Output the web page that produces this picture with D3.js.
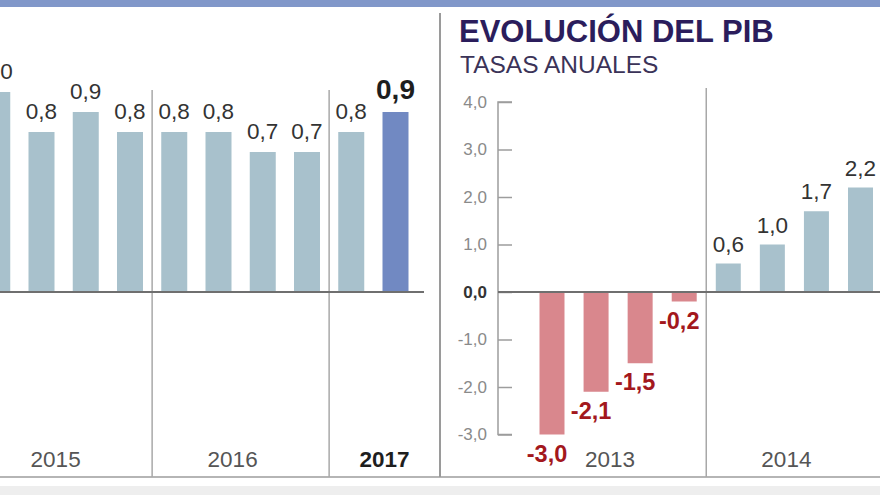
<!DOCTYPE html>
<html><head><meta charset="utf-8">
<script src="https://cdn.jsdelivr.net/npm/d3@7"></script>
<style>
html,body{margin:0;padding:0;background:#fff;}
svg{display:block;font-family:"Liberation Sans",Arial,Helvetica,sans-serif;}
</style></head>
<body>
<svg id="c" width="880" height="495"></svg>
<script>
// ---- data ----
const leftYears = ["2015", "2016", "2017"];
const leftQuarters = ["2015-I","2015-II","2015-III","2015-IV","2016-I","2016-II","2016-III","2016-IV","2017-I","2017-II"];
const leftValues = [1.0, 0.8, 0.9, 0.8, 0.8, 0.8, 0.7, 0.7, 0.8, 0.9];
const rightYears = ["2013", "2014"];
const rightQuarters = ["2013-I","2013-II","2013-III","2013-IV","2014-I","2014-II","2014-III","2014-IV"];
const rightValues = [-3.0, -2.1, -1.5, -0.2, 0.6, 1.0, 1.7, 2.2];
const rightTicks = [4, 3, 2, 1, 0, -1, -2, -3];
const titleText = "EVOLUCIÓN DEL PIB";
const subtitleText = "TASAS ANUALES";

const fmt = v => d3.format(".1f")(v).replace(".", ",").replace("−", "-");

const svg = d3.select("#c");
const W = 880, H = 495;
const baseY = 292, bottomY = 477;

// frame
svg.append("rect").attr("x",0).attr("y",0).attr("width",W).attr("height",7).attr("fill","#8197c9");
svg.append("rect").attr("x",0).attr("y",486).attr("width",W).attr("height",9).attr("fill","#eeeeee");
svg.append("line").attr("x1",0).attr("x2",W).attr("y1",bottomY).attr("y2",bottomY).attr("stroke","#b5b5b5").attr("stroke-width",2);
svg.append("line").attr("x1",440).attr("x2",440).attr("y1",13).attr("y2",bottomY).attr("stroke","#9a9a9a").attr("stroke-width",2);

// ---- left panel ----
const xL = d3.scalePoint().domain(leftQuarters).range([-2.75, 395.5]);
const yL = d3.scaleLinear().domain([0, 1]).range([baseY, 92]);
const bwL = 26;
const lastIdx = leftValues.length - 1;
const gL = svg.append("g");

function dividers(g, quarters, xs, top) {
  const out = [];
  for (let i = 1; i < quarters.length; i++) {
    if (quarters[i].slice(0,4) !== quarters[i-1].slice(0,4)) {
      const xm = (xs(quarters[i]) + xs(quarters[i-1])) / 2;
      out.push(xm);
      g.append("line").attr("x1",xm).attr("x2",xm).attr("y1",top).attr("y2",bottomY)
        .attr("stroke","#a8a8a8").attr("stroke-width",1.5);
    }
  }
  return out;
}
const divL = dividers(gL, leftQuarters, xL, 90);

gL.selectAll("rect.bar").data(leftValues).join("rect")
  .attr("x",(d,i)=>xL(leftQuarters[i]) - bwL/2)
  .attr("width",bwL)
  .attr("y",d=>yL(d))
  .attr("height",d=>yL(0)-yL(d))
  .attr("fill",(d,i)=> i===lastIdx ? "#7189c2" : "#a8c1cc");

gL.selectAll("text.val").data(leftValues).join("text")
  .attr("x",(d,i)=>xL(leftQuarters[i]))
  .attr("y",d=>yL(d)-13)
  .attr("text-anchor","middle")
  .attr("font-size",(d,i)=> i===lastIdx ? 28 : 22.5)
  .attr("font-weight",(d,i)=> i===lastIdx ? "bold" : "normal")
  .attr("fill",(d,i)=> i===lastIdx ? "#1e1e1e" : "#333")
  .text(d=>fmt(d));

gL.append("line").attr("x1",0).attr("x2",424).attr("y1",baseY).attr("y2",baseY)
  .attr("stroke","#6f6f6f").attr("stroke-width",2);

leftYears.forEach((yr, k) => {
  const qs = leftQuarters.filter(q => q.startsWith(yr));
  let cx;
  if (k === leftYears.length - 1) {
    cx = (divL[divL.length-1] + 440) / 2;
  } else {
    cx = d3.mean(qs, q => xL(q)) - 8;
  }
  gL.append("text").attr("x",cx).attr("y",467).attr("text-anchor","middle")
    .attr("font-size",22.5)
    .attr("font-weight", k === leftYears.length - 1 ? "bold" : "normal")
    .attr("fill", k === leftYears.length - 1 ? "#1e1e1e" : "#555")
    .text(yr);
});

// ---- right panel ----
const gR = svg.append("g");
gR.append("text").attr("x",459).attr("y",42).attr("font-size",31).attr("font-weight","bold")
  .attr("fill","#2b1d5c").text(titleText);
gR.append("text").attr("x",460).attr("y",73).attr("font-size",24.5)
  .attr("fill","#3b3358").text(subtitleText);

const xR = d3.scalePoint().domain(rightQuarters).range([552, 860.5]);
const yR = d3.scaleLinear().domain([-3, 4]).range([434.5, 102]);
const bwR = 25;
const axisX = 498;

dividers(gR, rightQuarters, xR, 88);

const yAxis = d3.axisRight(yR).tickValues(rightTicks).tickSize(14).tickFormat(fmt);
const ax = gR.append("g").attr("transform",`translate(${axisX},0)`).call(yAxis);
ax.select(".domain").attr("stroke","#9d9d9d").attr("stroke-width",1.5)
  .attr("d", `M14,${yR(4)}H0V${yR(-3)}H14`);
ax.selectAll(".tick line").attr("stroke","#9d9d9d").attr("stroke-width",1.5);
ax.selectAll(".tick text")
  .attr("x",-11).attr("text-anchor","end")
  .attr("font-family","Liberation Sans, Arial, sans-serif")
  .attr("font-size",17)
  .attr("fill",d=> d===0 ? "#333" : "#8a8a8a")
  .attr("font-weight",d=> d===0 ? "bold" : "normal");

gR.selectAll("rect.bar").data(rightValues).join("rect")
  .attr("x",(d,i)=>xR(rightQuarters[i]) - bwR/2)
  .attr("width",bwR)
  .attr("y",d=>yR(Math.max(0,d)))
  .attr("height",d=>Math.abs(yR(d)-yR(0)))
  .attr("fill",d=> d<0 ? "#d9878d" : "#a8c1cc");

gR.append("line").attr("x1",axisX).attr("x2",W).attr("y1",yR(0)).attr("y2",yR(0))
  .attr("stroke","#6f6f6f").attr("stroke-width",2);

gR.selectAll("text.val").data(rightValues).join("text")
  .attr("x",(d,i)=>xR(rightQuarters[i]) + (d<0 ? -5 : 0))
  .attr("y",d=> d<0 ? yR(d)+27 : yR(d)-12)
  .attr("text-anchor","middle")
  .attr("font-size",d=> d<0 ? 23.5 : 22.5)
  .attr("font-weight",d=> d<0 ? "bold" : "normal")
  .attr("fill",d=> d<0 ? "#a3181d" : "#333")
  .text(d=>fmt(d));

rightYears.forEach(yr => {
  const qs = rightQuarters.filter(q => q.startsWith(yr));
  const cx = d3.mean(qs, q => xR(q)) - 8;
  gR.append("text").attr("x",cx).attr("y",467).attr("text-anchor","middle")
    .attr("font-size",22.5).attr("fill","#555").text(yr);
});
</script>
</body></html>
